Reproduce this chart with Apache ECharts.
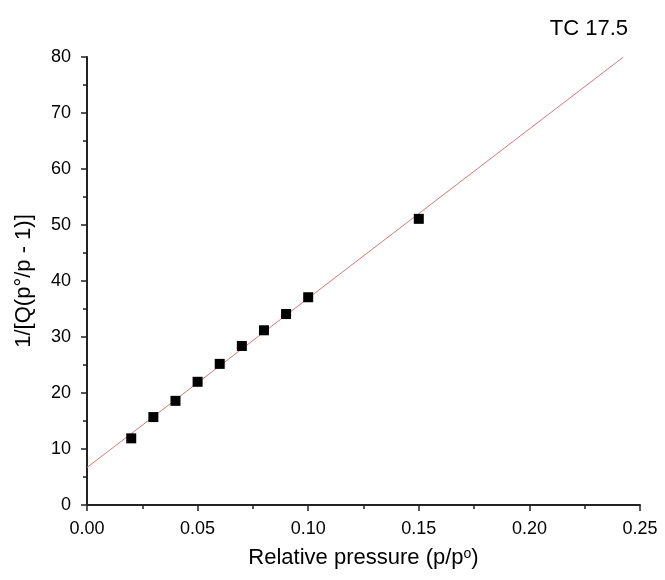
<!DOCTYPE html>
<html style="height: 100%">
<head>
	<meta charset="utf-8">
</head>
<body style="height: 100%; margin: 0; background: #fff">
	<div id="container" style="width: 665px; height: 580px"></div>
	<script type="text/javascript" src="https://cdn.jsdelivr.net/npm/echarts@6/dist/echarts.min.js"></script>
	<script type="text/javascript">
		// measured points
		var relPressure = [0.02, 0.03, 0.04, 0.05, 0.06, 0.07, 0.08, 0.09, 0.10, 0.15];
		var bet = [11.9, 15.7, 18.6, 22.0, 25.2, 28.4, 31.2, 34.1, 37.1, 51.1];
		// fitted line, ends
		var fitX = [0, 0.2425];
		var fitY = [6.7, 80];

		var font = 'Liberation Sans, Arial, sans-serif';
		var chart = echarts.init(document.getElementById('container'));

		var option = {
			animation: false,
			title: {
				text: 'TC 17.5',
				right: 32,
				top: 13,
				textStyle: { fontFamily: font, fontSize: 22, fontWeight: 'normal', color: '#000' }
			},
			grid: { left: 87, right: 25, top: 57, bottom: 75 },
			xAxis: {
				type: 'value',
				min: 0, max: 0.25, interval: 0.05,
				name: 'Relative pressure (p/p{s|o})',
				nameLocation: 'middle',
				nameGap: 42,
				nameTextStyle: {
					fontFamily: font, fontSize: 22, color: '#000',
					rich: { s: { fontFamily: font, fontSize: 14, verticalAlign: 'top', lineHeight: 12, padding: [0, 0, 14, 0] } }
				},
				splitLine: { show: false },
				axisLine: { lineStyle: { color: '#222', width: 2 } },
				axisTick: { length: 6, lineStyle: { color: '#222', width: 1.5 } },
				minorTick: { show: true, splitNumber: 2, length: 4, lineStyle: { color: '#222', width: 1.5 } },
				axisLabel: {
					fontFamily: font, fontSize: 18, color: '#000', margin: 15,
					formatter: function (v) { return v.toFixed(2); }
				}
			},
			yAxis: {
				type: 'value',
				min: 0, max: 80, interval: 10,
				name: '1/[Q(p°/p - 1)]',
				nameLocation: 'middle',
				nameGap: 52,
				nameTextStyle: { fontFamily: font, fontSize: 22, color: '#000' },
				splitLine: { show: false },
				axisLine: { show: true, lineStyle: { color: '#222', width: 2 } },
				axisTick: { show: true, length: 6, lineStyle: { color: '#222', width: 1.5 } },
				minorTick: { show: true, splitNumber: 2, length: 4, lineStyle: { color: '#222', width: 1.5 } },
				axisLabel: { fontFamily: font, fontSize: 18, color: '#000', margin: 16 }
			},
			series: [
				{
					type: 'line',
					data: fitX.map(function (x, i) { return [x, fitY[i]]; }),
					showSymbol: false,
					lineStyle: { color: '#d07a7a', width: 1 },
					z: 1
				},
				{
					type: 'scatter',
					data: relPressure.map(function (x, i) { return [x, bet[i]]; }),
					symbol: 'rect',
					symbolSize: 10,
					itemStyle: { color: '#000', opacity: 1 },
					z: 2
				}
			]
		};
		chart.setOption(option);
	</script>
</body>
</html>
